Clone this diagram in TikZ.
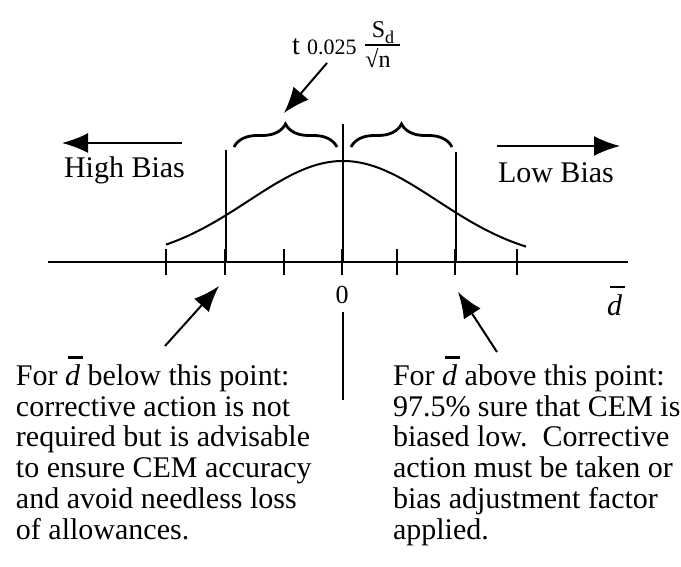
\documentclass[tikz,border=0pt]{standalone}
\usepackage{fontspec}
\setmainfont{Liberation Serif}
\usetikzlibrary{arrows.meta,decorations.pathreplacing}
\newcommand{\dbar}{\leavevmode\rlap{\hspace{0.1em}\rule[0.9em]{0.5em}{0.07em}}\textit{d}}
\begin{document}
\begin{tikzpicture}[x=0.5pt,y=-0.5pt,line width=1pt,
  arr/.style={-{Latex[length=13pt,width=10pt]},line width=1pt},
  txt/.style={font=\fontsize{15}{15.35}\selectfont,inner sep=0pt},
  brc/.style={decorate,decoration={brace,amplitude=11.5pt},line width=1.4pt}]
\useasboundingbox (0,0) rectangle (681,567);
% axis
\coordinate (axL) at (48,262);
\coordinate (axR) at (628,262);
\draw (axL) -- (axR);
\foreach \x in {166,225,284,342,397,455,517} \draw (\x,249) -- (\x,275);
% vertical lines
\draw (226,150) -- (226,262);
\draw (343,124) -- (343,262);
\draw (456,152) -- (456,262);
\draw (343,312) -- (343,400);
% bell curve
\draw plot[domain=166:526,samples=90,smooth] (\x,{262-101*exp(-((\x-343)/100)^2/1.78)});
% braces
\draw[brc] (234,147) -- (337,147);
\draw[brc] (351,147) -- (452,147);
% formula
\node[inner sep=0pt,anchor=base west,font=\fontsize{14}{14}\selectfont] (tt) at (291,55) {t};
\node[inner sep=0pt,anchor=base west,font=\fontsize{11}{11}\selectfont] (tq) at (306,55) {0.025};
\node[inner sep=0pt,anchor=base,font=\fontsize{12}{12}\selectfont] (num) at (383,38) {S\raisebox{-0.25em}{\fontsize{9}{9}\selectfont d}};
\node[inner sep=0pt,anchor=base,font=\fontsize{12}{12}\selectfont] (den) at (378,68) {√n};
\draw[line width=0.8pt] (365,45) -- (400,45);
\coordinate (fa1) at (327,63);
\coordinate (fa2) at (284,113);
\draw[arr] (fa1) -- (fa2);
% bias arrows
\coordinate (hb1) at (182,143);
\coordinate (hb2) at (62,143);
\draw[arr] (hb1) -- (hb2);
\node[txt,anchor=base west] (hb) at (63,178) {High Bias};
\coordinate (lb1) at (497,146);
\coordinate (lb2) at (620,146);
\draw[arr] (lb1) -- (lb2);
\node[txt,anchor=base west] (lb) at (497,183) {Low Bias};
% axis labels
\node[inner sep=0pt,anchor=base,font=\fontsize{13}{13}\selectfont] (zero) at (342,303) {0};
\node[txt,anchor=base west] (dlab) at (606,315) {\dbar};
% pointer arrows
\coordinate (pl1) at (165,346);
\coordinate (pl2) at (219,286);
\draw[arr] (pl1) -- (pl2);
\coordinate (pr1) at (497,352);
\coordinate (pr2) at (458,292);
\draw[arr] (pr1) -- (pr2);
% bottom texts
\node[txt,anchor=base west,align=left] (lt) at (15,539) {For \dbar{} below this point:\\corrective action is not\\required but is advisable\\to ensure CEM accuracy\\and avoid needless loss\\of allowances.};
\node[txt,anchor=base west,align=left] (rt) at (392,539) {For \dbar{} above this point:\\97.5\% sure that CEM is\\biased low.\ \ Corrective\\action must be taken or\\bias adjustment factor\\applied.};
\end{tikzpicture}
\end{document}
